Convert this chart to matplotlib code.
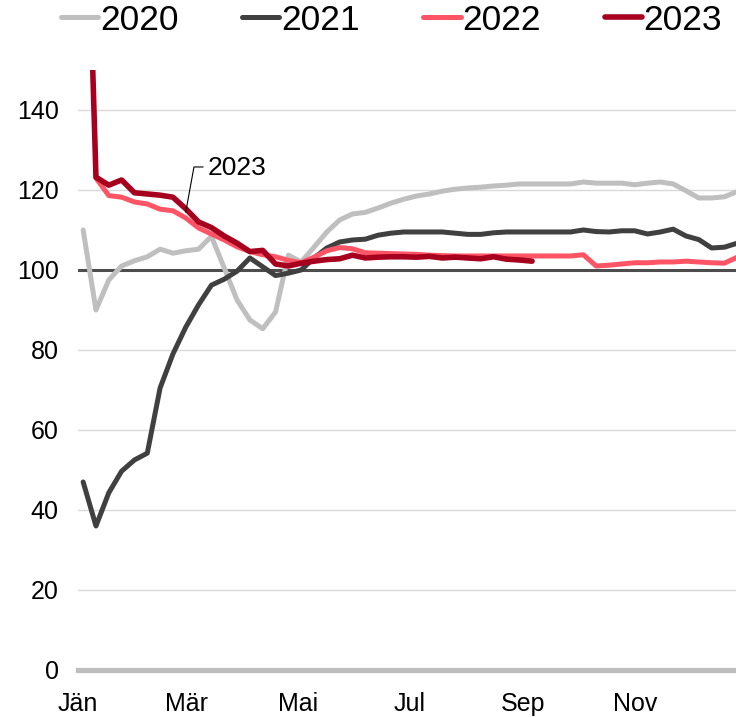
import numpy as np
import matplotlib.pyplot as plt

# weekly index values, one value per calendar week (index 0 = first week)
weeks = np.arange(52)

y2020 = [110, 90, 97.5, 101, 102.3, 103.3, 105.2, 104.2, 104.8, 105.2,
         108.4, 100.5, 92.5, 87.5, 85.3, 89.5, 103.7, 102, 105.7, 109.5,
         112.5, 114, 114.4, 115.5, 116.7, 117.7, 118.5, 119, 119.7, 120.2,
         120.5, 120.7, 121, 121.2, 121.5, 121.5, 121.5, 121.5, 121.5, 122,
         121.7, 121.7, 121.7, 121.3, 121.7, 122, 121.5, 119.8, 118, 118,
         118.3, 119.6]

y2021 = [47, 36, 44.3, 49.7, 52.5, 54.2, 70.5, 79, 85.7, 91.3,
         96.2, 97.7, 99.7, 103, 100.8, 98.6, 99.2, 100, 103, 105.5,
         107, 107.5, 107.7, 108.7, 109.2, 109.5, 109.5, 109.5, 109.5, 109.2,
         108.9, 108.9, 109.3, 109.5, 109.5, 109.5, 109.5, 109.5, 109.5, 110,
         109.6, 109.5, 109.8, 109.8, 109, 109.5, 110.2, 108.5, 107.6, 105.5,
         105.7, 106.7]

y2022 = [np.nan, 123, 118.6, 118.2, 117, 116.5, 115.2, 114.8, 113, 110.5,
         109, 107.5, 105.8, 104.6, 103.8, 103.3, 102.4, 101.8, 103.2, 104.8,
         105.6, 105.3, 104.3, 104.2, 104.1, 104, 103.9, 103.7, 103.6, 103.5,
         103.5, 103.5, 103.5, 103.5, 103.5, 103.5, 103.5, 103.5, 103.5, 103.8,
         101, 101.2, 101.5, 101.8, 101.8, 102, 102, 102.2, 102, 101.8,
         101.7, 103.2]

y2023 = [230, 123.2, 121.2, 122.5, 119.3, 119, 118.7, 118.2, 115.3, 112,
         110.6, 108.5, 106.7, 104.6, 104.9, 101.5, 101, 101.7, 102.2, 102.6,
         102.8, 103.7, 103, 103.2, 103.3, 103.3, 103.2, 103.4, 103, 103.2,
         103, 102.8, 103.3, 102.7, 102.5, 102.2]

month_labels = ["Jän", "Mär", "Mai", "Jul", "Sep", "Nov"]
month_start_days = [0, 59, 120, 181, 243, 304]

plt.rcParams['font.family'] = ['Liberation Sans', 'DejaVu Sans']

fig = plt.figure(figsize=(7.36, 7.17), dpi=100)
ax = fig.add_axes([0.106, 0.0656, 0.894, 0.8368])

ax.set_ylim(0, 150)
ax.set_xlim(-0.31, 50.9)

ax.set_yticks(range(0, 141, 20))
ax.yaxis.grid(True, color="#D9D9D9", lw=1)
ax.set_axisbelow(True)
ax.axhline(100, color="#4D4D4D", lw=2.2, zorder=2)
ax.axhline(0, color="#BFBFBF", lw=3.8, zorder=2, clip_on=False)

style = dict(solid_capstyle="round", solid_joinstyle="round")
ax.plot(weeks, y2020, color="#BFBFBF", lw=3.6, label="2020", zorder=3, **style)
ax.plot(weeks, y2021, color="#404040", lw=3.6, label="2021", zorder=4, **style)
ax.plot(weeks, y2022, color="#FF5466", lw=3.6, label="2022", zorder=5, **style)
ax.plot(weeks[:len(y2023)], y2023, color="#A6001E", lw=4.0, label="2023",
        zorder=6, **style)

# label for 2023 with leader line
ax.plot([8.0, 8.64, 9.34], [114.5, 125.75, 125.75], color="black", lw=0.8, zorder=7)
ax.text(9.7, 125.6, "2023", fontsize=19, va="center", ha="left")

ax.set_xticks([d / 7 - 0.4 for d in month_start_days])
ax.set_xticklabels(month_labels)
ax.tick_params(axis="x", length=0, labelsize=18, pad=16)
ax.tick_params(axis="y", length=0, labelsize=18, pad=14)

for s in ax.spines.values():
    s.set_visible(False)

fig.legend(loc="center", bbox_to_anchor=(0.532, 1 - 20 / 717), ncol=4,
           frameon=False, fontsize=25.5, handlelength=1.05, handletextpad=0.05,
           columnspacing=1.8, borderpad=0)

fig.savefig("out.png", dpi=100)
